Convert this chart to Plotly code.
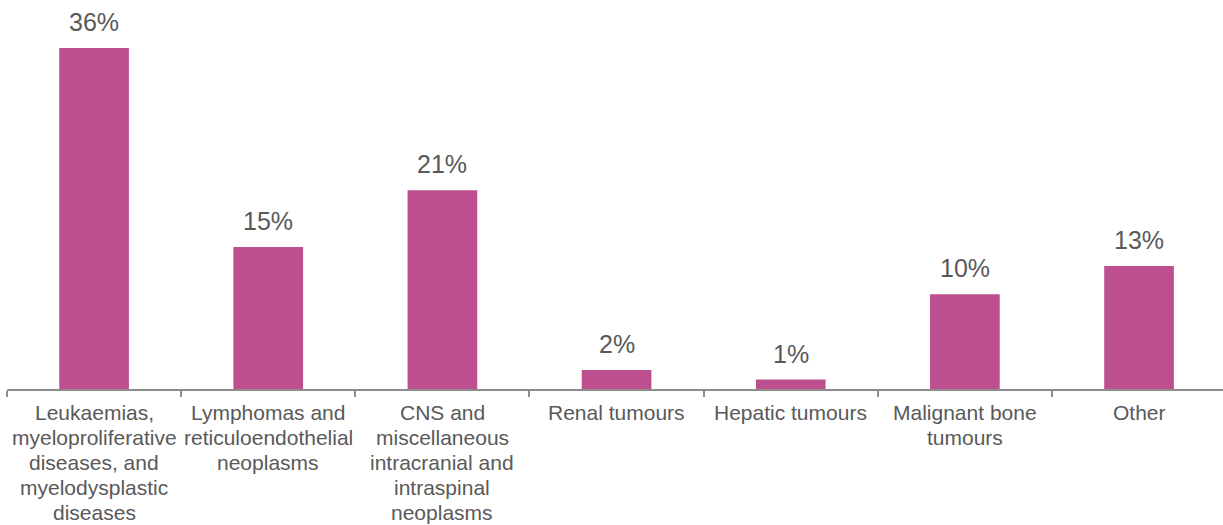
import plotly.graph_objects as go

# Category label lines (each category wrapped onto several lines)
category_lines = [
    ["Leukaemias,", "myeloproliferative", "diseases, and", "myelodysplastic", "diseases"],
    ["Lymphomas and", "reticuloendothelial", "neoplasms"],
    ["CNS and", "miscellaneous", "intracranial and", "intraspinal", "neoplasms"],
    ["Renal tumours"],
    ["Hepatic tumours"],
    ["Malignant bone", "tumours"],
    ["Other"],
]
categories = [" ".join(lines) for lines in category_lines]
shares = [36, 15, 21, 2, 1, 10, 13]  # percent

BAR_COLOR = "#BD4F8E"
TEXT_COLOR = "#595959"
AXIS_COLOR = "#8C8C8C"
FONT = "Arial, Liberation Sans, sans-serif"

fig = go.Figure(
    go.Bar(
        x=categories,
        y=shares,
        marker=dict(color=BAR_COLOR, line=dict(width=0)),
        hoverinfo="skip",
    )
)

annotations = []
# value labels above each bar
for cat, v in zip(categories, shares):
    annotations.append(dict(
        x=cat, y=v, xref="x", yref="y",
        text=f"{v}%", showarrow=False,
        yanchor="bottom", xanchor="center", yshift=10,
        font=dict(family=FONT, size=25, color=TEXT_COLOR),
    ))

# category labels beneath the axis, one annotation per line
LINE_STEP = 25
for cat, lines in zip(categories, category_lines):
    for i, line in enumerate(lines):
        annotations.append(dict(
            x=cat, y=0, xref="x", yref="y",
            text=line, showarrow=False,
            yanchor="top", xanchor="center",
            yshift=-(10 + i * LINE_STEP),
            font=dict(family=FONT, size=21, color=TEXT_COLOR),
        ))

fig.update_layout(
    width=1223,
    height=525,
    margin=dict(l=7, r=0, t=0, b=136),
    paper_bgcolor="white",
    plot_bgcolor="white",
    showlegend=False,
    bargap=0.6,
    font=dict(family=FONT, color=TEXT_COLOR),
    annotations=annotations,
    xaxis=dict(
        type="category",
        range=[-0.5, 6.482],
        showgrid=False,
        zeroline=False,
        showline=True,
        linecolor=AXIS_COLOR,
        linewidth=1.5,
        ticks="outside",
        tickson="boundaries",
        ticklen=6,
        tickwidth=1.5,
        tickcolor=AXIS_COLOR,
        showticklabels=False,
        fixedrange=True,
    ),
    yaxis=dict(
        range=[0, 41.08],
        visible=False,
        showgrid=False,
        zeroline=False,
        fixedrange=True,
    ),
)

fig.write_html("out.html", config={"displayModeBar": False})
